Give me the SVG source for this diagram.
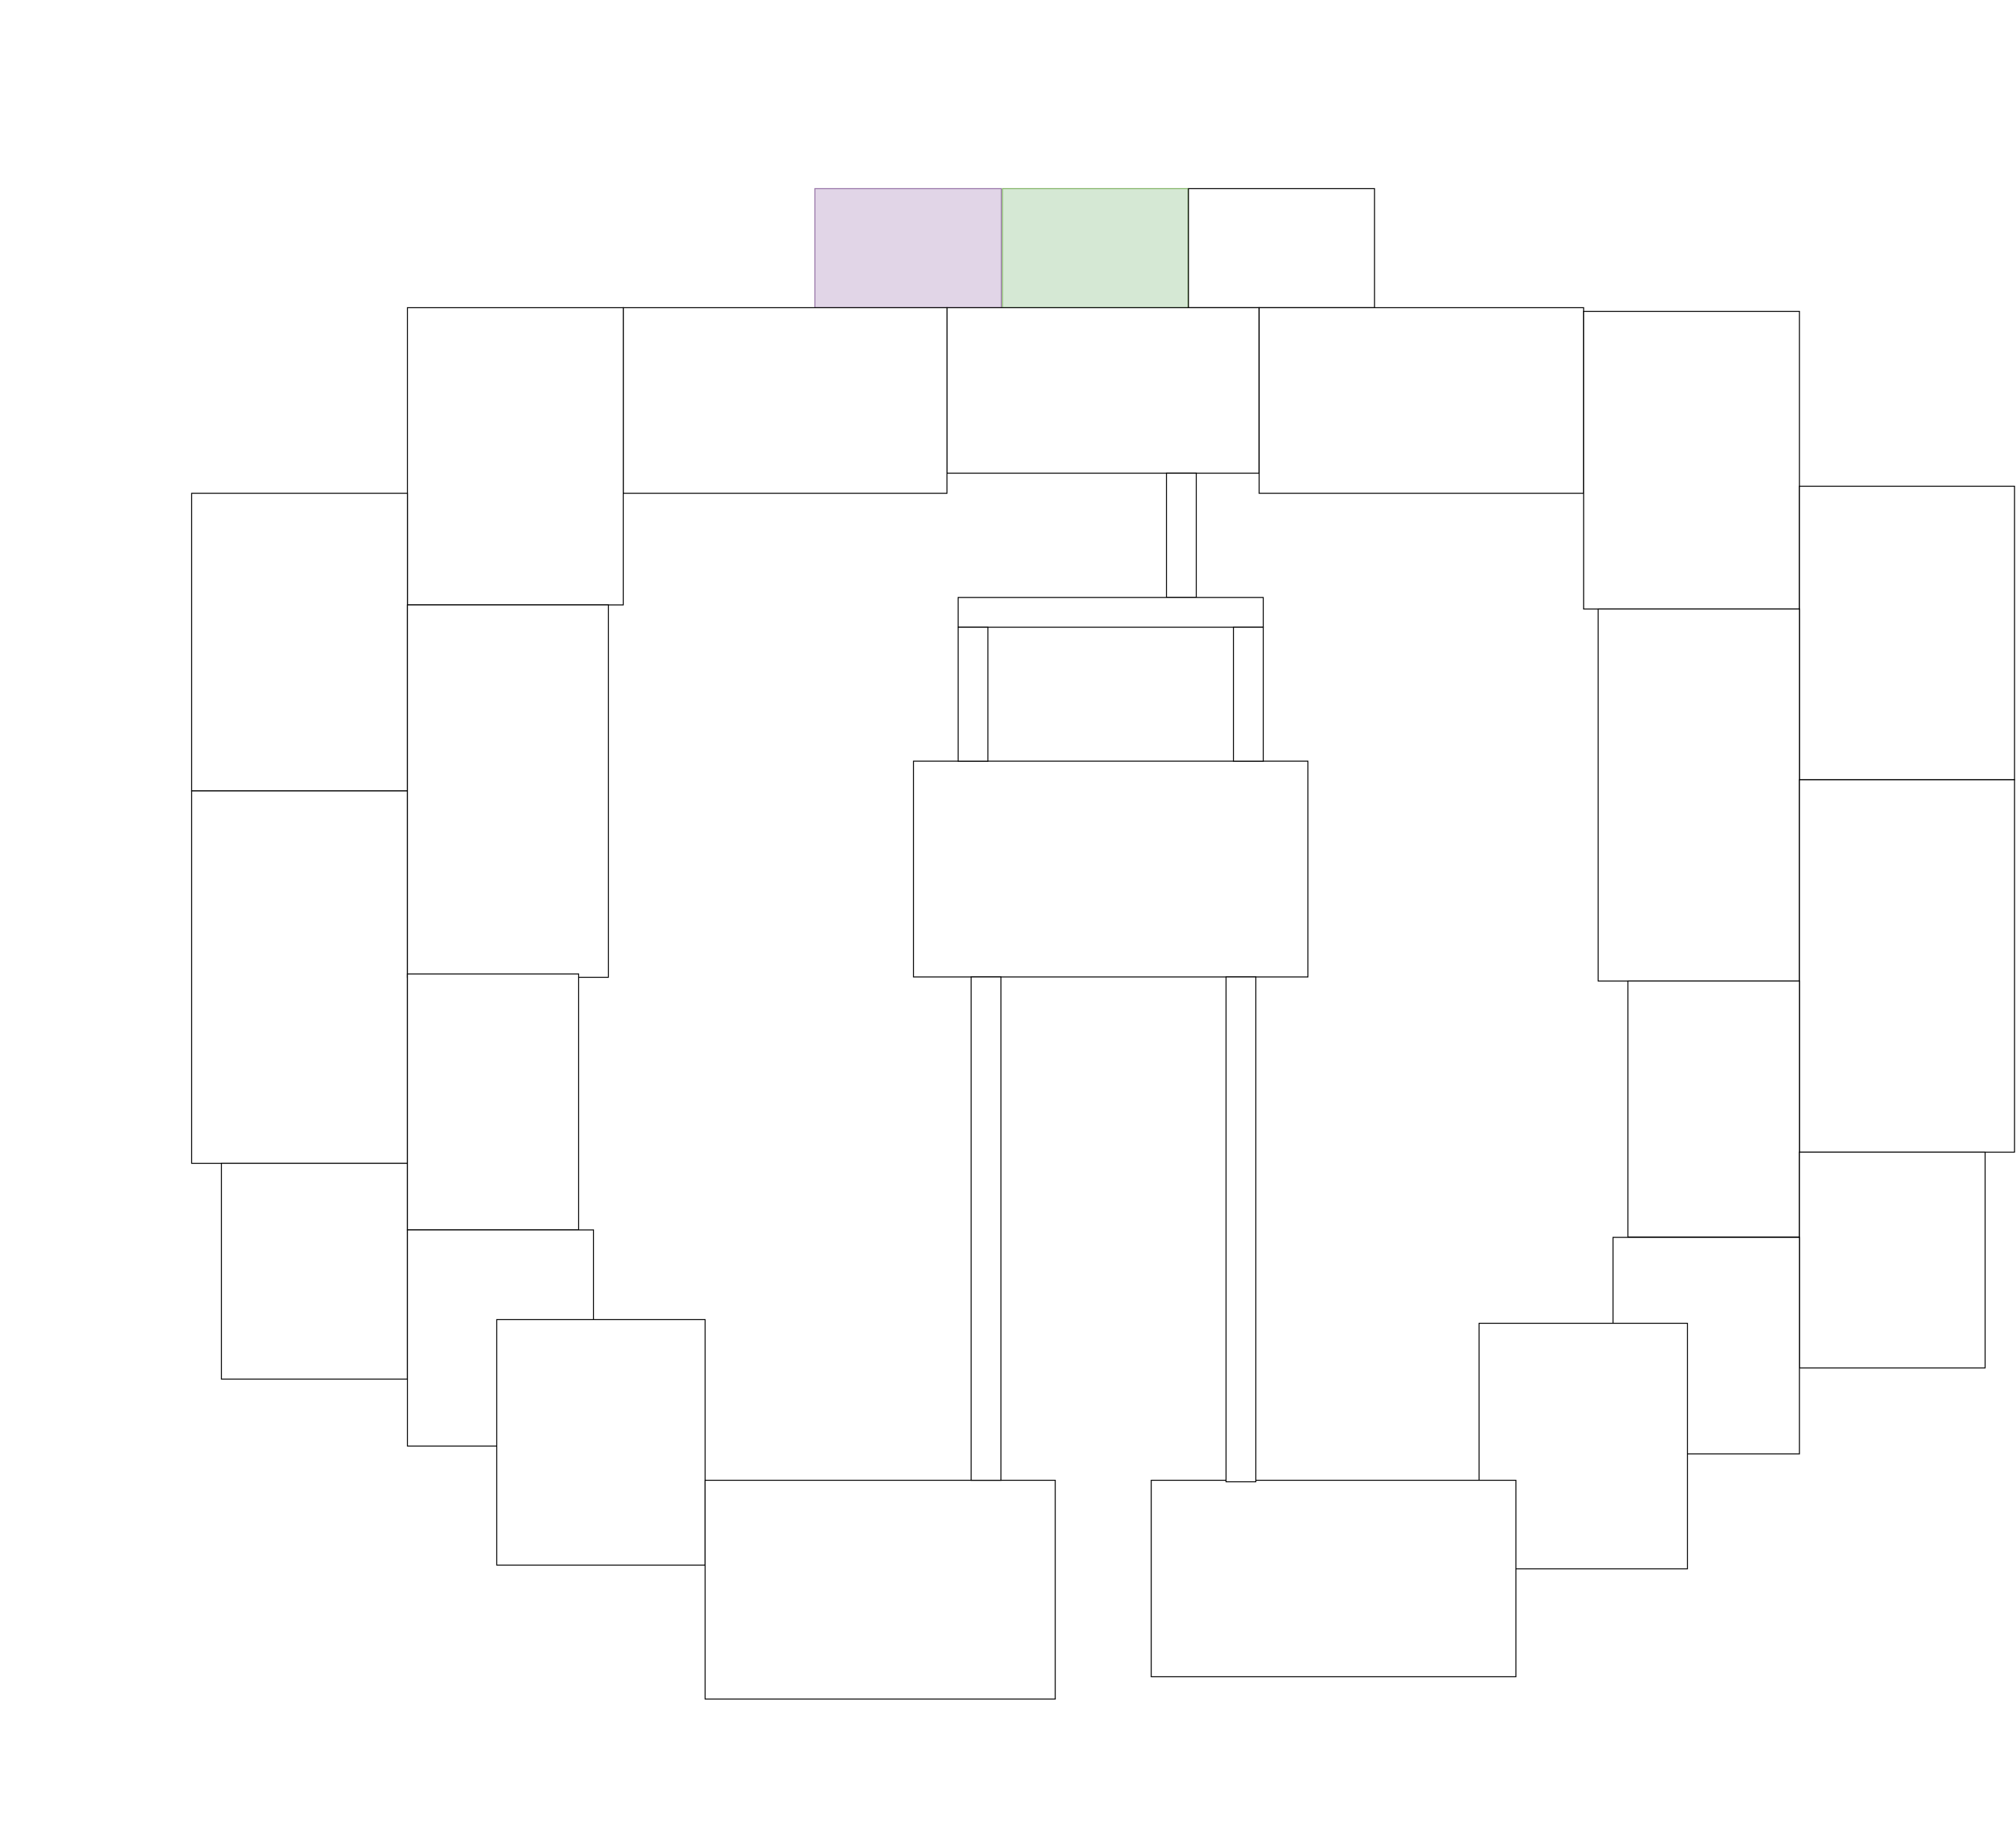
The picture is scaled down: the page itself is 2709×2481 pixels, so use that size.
<svg xmlns="http://www.w3.org/2000/svg" width="2709" height="2481" viewBox="0 0 2709 2481">
<style>
.n{fill:#ffffff;stroke:#000000;stroke-width:1.3}
.c{fill:#ffffff;stroke:#000000;stroke-width:1.3}
.purple{fill:#e1d5e7;stroke:#9673a6;stroke-width:1.3}
.green{fill:#d5e8d4;stroke:#82b366;stroke-width:1.3}
</style>
<rect width="2709" height="2481" fill="#ffffff"/>
<g id="nodes">
<g id="n-purple"><rect class="purple" x="1095" y="253.5" width="250.5" height="160"/></g>
<g id="n-green"><rect class="green" x="1347" y="253.5" width="249.5" height="160"/></g>
<g id="n-topwhite"><rect class="n" x="1597" y="253.5" width="250" height="160"/></g>
<g id="n-center-top"><rect class="n" x="1272.5" y="413.5" width="419.5" height="222.5"/></g>
<g id="n-top-left"><rect class="n" x="837.5" y="413.5" width="435" height="249.5"/></g>
<g id="n-top-right"><rect class="n" x="1692" y="413.5" width="436" height="249.5"/></g>
<g id="n-A"><rect class="n" x="547.5" y="413.5" width="290" height="399.5"/></g>
<g id="n-C"><rect class="n" x="257.5" y="663" width="290" height="400"/></g>
<g id="n-E"><rect class="n" x="257.5" y="1063" width="290" height="500.5"/></g>
<g id="n-F"><rect class="n" x="297.5" y="1563.5" width="250" height="290"/></g>
<g id="n-D"><rect class="n" x="547.5" y="813" width="270" height="500.5"/></g>
<g id="n-G"><rect class="n" x="547.5" y="1309" width="230" height="344"/></g>
<g id="n-H"><rect class="n" x="547.5" y="1653" width="250" height="290.5"/></g>
<g id="n-I"><rect class="n" x="667.5" y="1773.5" width="280" height="330"/></g>
<g id="n-K"><rect class="n" x="2128" y="418.5" width="290" height="400"/></g>
<g id="n-L"><rect class="n" x="2418" y="653.5" width="289" height="394.5"/></g>
<g id="n-M"><rect class="n" x="2147.5" y="818.5" width="270.5" height="500"/></g>
<g id="n-N"><rect class="n" x="2418" y="1048" width="289" height="500.5"/></g>
<g id="n-O"><rect class="n" x="2187.5" y="1318.5" width="230.5" height="344"/></g>
<g id="n-P"><rect class="n" x="2418" y="1548.5" width="249.5" height="290"/></g>
<g id="n-Q"><rect class="n" x="2167.5" y="1663" width="250.5" height="291"/></g>
<g id="n-R"><rect class="n" x="1987.5" y="1778.5" width="280" height="330"/></g>
<g id="n-center"><rect class="n" x="1227.5" y="1023" width="530" height="290"/></g>
<g id="n-bottom-left"><rect class="n" x="947.5" y="1989.5" width="470.5" height="294"/></g>
<g id="n-bottom-right"><rect class="n" x="1547" y="1989.5" width="490" height="264"/></g>
</g>
<g id="connectors">
<rect class="c" x="1567.5" y="636" width="40" height="167"/>
<rect class="c" x="1287.5" y="803" width="410" height="40"/>
<rect class="c" x="1287.5" y="843" width="40" height="180"/>
<rect class="c" x="1657.5" y="843" width="40" height="180"/>
<rect class="c" x="1305" y="1313" width="40" height="676.5"/>
<rect class="c" x="1647.5" y="1313" width="40" height="678.5"/>
</g>
</svg>
